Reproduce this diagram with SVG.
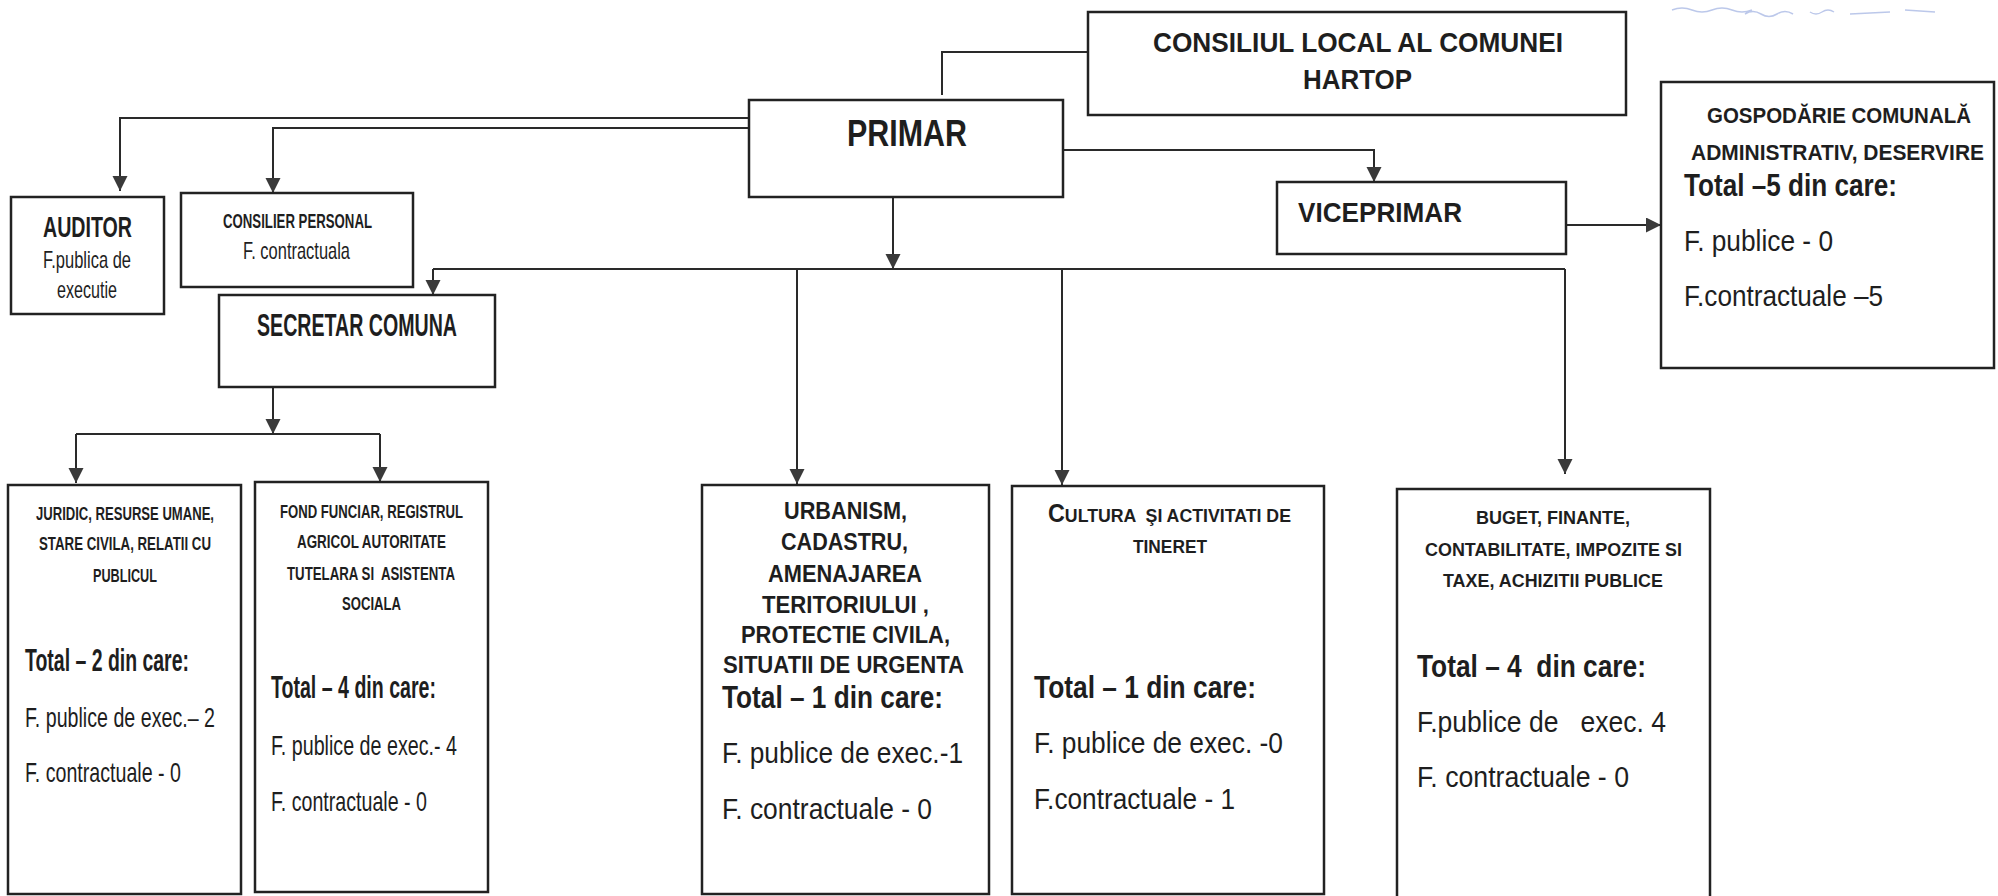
<svg xmlns="http://www.w3.org/2000/svg" width="1998" height="896" viewBox="0 0 1998 896">
<defs>
<marker id="arr" markerUnits="userSpaceOnUse" markerWidth="16" markerHeight="16" refX="15" refY="7.5" orient="auto">
<path d="M0,0 L15,7.5 L0,15 z" fill="#3a3a3a"/>
</marker>
<style>
.box{fill:#fff;stroke:#222;stroke-width:2.5}
.ln{fill:none;stroke:#2a2a2a;stroke-width:2}
.a{marker-end:url(#arr)}
text{font-family:"Liberation Sans",Arial,sans-serif;fill:#1e1e1e}
.b{font-weight:bold}
.pre{white-space:pre}
</style>
</defs>
<rect width="1998" height="896" fill="#fff"/>

<path d="M1672,10 q10,-4 20,0 t20,0 t20,0 t20,0 M1745,14 q8,-5 16,0 t16,0 t16,0 M1810,12 q6,4 12,0 t12,0 M1850,14 l40,-2 M1905,10 l30,2" fill="none" stroke="#8fa3dc" stroke-width="1.5" opacity="0.6"/>

<g id="connectors">
<polyline class="ln" points="1088,52 942,52 942,95"/>
<polyline class="ln a" points="749,118 120,118 120,191"/>
<polyline class="ln a" points="749,128 273,128 273,193"/>
<polyline class="ln a" points="1063,150 1374,150 1374,182"/>
<polyline class="ln a" points="1566,225 1661,225"/>
<polyline class="ln a" points="893,197 893,269"/>
<polyline class="ln" points="433,269 1565,269"/>
<polyline class="ln a" points="433,269 433,295"/>
<polyline class="ln a" points="797,269 797,484"/>
<polyline class="ln a" points="1062,269 1062,485"/>
<polyline class="ln a" points="1565,269 1565,474"/>
<polyline class="ln a" points="273,387 273,434"/>
<polyline class="ln" points="76,434 380,434"/>
<polyline class="ln a" points="76,434 76,483"/>
<polyline class="ln a" points="380,434 380,482"/>
</g>

<g id="consiliul">
<rect class="box" x="1088" y="12" width="538" height="103"/>
<text class="b" x="1153" y="52" font-size="28" textLength="410" lengthAdjust="spacingAndGlyphs">CONSILIUL LOCAL AL COMUNEI</text>
<text class="b" x="1303" y="89" font-size="28" textLength="109" lengthAdjust="spacingAndGlyphs">HARTOP</text>
</g>

<g id="primar">
<rect class="box" x="749" y="100" width="314" height="97"/>
<text class="b" x="847" y="146" font-size="36" textLength="120" lengthAdjust="spacingAndGlyphs">PRIMAR</text>
</g>

<g id="viceprimar">
<rect class="box" x="1277" y="182" width="289" height="72"/>
<text class="b" x="1298" y="222" font-size="28" textLength="164" lengthAdjust="spacingAndGlyphs">VICEPRIMAR</text>
</g>

<g id="gospodarie">
<rect class="box" x="1661" y="82" width="333" height="286"/>
<text class="b" x="1707" y="123" font-size="22" textLength="264" lengthAdjust="spacingAndGlyphs">GOSPODĂRIE COMUNALĂ</text>
<text class="b" x="1691" y="160" font-size="22" textLength="293" lengthAdjust="spacingAndGlyphs">ADMINISTRATIV, DESERVIRE</text>
<text class="b" x="1684" y="196" font-size="31" textLength="213" lengthAdjust="spacingAndGlyphs">Total –5 din care:</text>
<text x="1684" y="251" font-size="30" textLength="149" lengthAdjust="spacingAndGlyphs">F. publice - 0</text>
<text x="1684" y="306" font-size="30" textLength="199" lengthAdjust="spacingAndGlyphs">F.contractuale –5</text>
</g>

<g id="auditor">
<rect class="box" x="11" y="197" width="153" height="117"/>
<text class="b" x="43" y="237" font-size="29" textLength="89" lengthAdjust="spacingAndGlyphs">AUDITOR</text>
<text x="43" y="268" font-size="24" textLength="88" lengthAdjust="spacingAndGlyphs">F.publica de</text>
<text x="57" y="298" font-size="24" textLength="60" lengthAdjust="spacingAndGlyphs">executie</text>
</g>

<g id="consilier">
<rect class="box" x="181" y="193" width="232" height="94"/>
<text class="b" x="223" y="228" font-size="20" textLength="149" lengthAdjust="spacingAndGlyphs">CONSILIER PERSONAL</text>
<text x="243" y="259" font-size="24" textLength="107" lengthAdjust="spacingAndGlyphs">F. contractuala</text>
</g>

<g id="secretar">
<rect class="box" x="219" y="295" width="276" height="92"/>
<text class="b" x="257" y="336" font-size="32" textLength="200" lengthAdjust="spacingAndGlyphs">SECRETAR COMUNA</text>
</g>

<g id="juridic">
<rect class="box" x="8" y="485" width="233" height="409"/>
<text class="b" x="36" y="520" font-size="18" textLength="178" lengthAdjust="spacingAndGlyphs">JURIDIC, RESURSE UMANE,</text>
<text class="b" x="39" y="550" font-size="18" textLength="172" lengthAdjust="spacingAndGlyphs">STARE CIVILA, RELATII CU</text>
<text class="b" x="93" y="582" font-size="18" textLength="64" lengthAdjust="spacingAndGlyphs">PUBLICUL</text>
<text class="b" x="25" y="671" font-size="31" textLength="164" lengthAdjust="spacingAndGlyphs">Total – 2 din care:</text>
<text x="25" y="727" font-size="28" textLength="190" lengthAdjust="spacingAndGlyphs">F. publice de exec.– 2</text>
<text x="25" y="782" font-size="28" textLength="156" lengthAdjust="spacingAndGlyphs">F. contractuale - 0</text>
</g>

<g id="fond">
<rect class="box" x="255" y="482" width="233" height="410"/>
<text class="b" x="280" y="518" font-size="18" textLength="183" lengthAdjust="spacingAndGlyphs">FOND FUNCIAR, REGISTRUL</text>
<text class="b" x="297" y="548" font-size="18" textLength="149" lengthAdjust="spacingAndGlyphs">AGRICOL AUTORITATE</text>
<text class="b pre" x="287" y="580" font-size="18" textLength="168" lengthAdjust="spacingAndGlyphs">TUTELARA SI  ASISTENTA</text>
<text class="b" x="342" y="610" font-size="18" textLength="59" lengthAdjust="spacingAndGlyphs">SOCIALA</text>
<text class="b" x="271" y="698" font-size="31" textLength="165" lengthAdjust="spacingAndGlyphs">Total – 4 din care:</text>
<text x="271" y="755" font-size="28" textLength="186" lengthAdjust="spacingAndGlyphs">F. publice de exec.- 4</text>
<text x="271" y="811" font-size="28" textLength="156" lengthAdjust="spacingAndGlyphs">F. contractuale - 0</text>
</g>

<g id="urbanism">
<rect class="box" x="702" y="485" width="287" height="409"/>
<text class="b" x="784" y="519" font-size="23" textLength="123" lengthAdjust="spacingAndGlyphs">URBANISM,</text>
<text class="b" x="781" y="550" font-size="23" textLength="127" lengthAdjust="spacingAndGlyphs">CADASTRU,</text>
<text class="b" x="768" y="582" font-size="23" textLength="154" lengthAdjust="spacingAndGlyphs">AMENAJAREA</text>
<text class="b" x="762" y="613" font-size="23" textLength="167" lengthAdjust="spacingAndGlyphs">TERITORIULUI ,</text>
<text class="b" x="741" y="643" font-size="23" textLength="209" lengthAdjust="spacingAndGlyphs">PROTECTIE CIVILA,</text>
<text class="b" x="723" y="673" font-size="23" textLength="241" lengthAdjust="spacingAndGlyphs">SITUATII DE URGENTA</text>
<text class="b" x="722" y="708" font-size="31" textLength="221" lengthAdjust="spacingAndGlyphs">Total – 1 din care:</text>
<text x="722" y="763" font-size="29" textLength="241" lengthAdjust="spacingAndGlyphs">F. publice de exec.-1</text>
<text x="722" y="819" font-size="29" textLength="210" lengthAdjust="spacingAndGlyphs">F. contractuale - 0</text>
</g>

<g id="cultura">
<rect class="box" x="1012" y="486" width="312" height="408"/>
<text class="b pre" x="1048" y="522" font-size="19" textLength="243" lengthAdjust="spacingAndGlyphs"><tspan font-size="25">C</tspan>ULTURA  ŞI ACTIVITATI DE</text>
<text class="b" x="1133" y="553" font-size="19" textLength="74" lengthAdjust="spacingAndGlyphs">TINERET</text>
<text class="b" x="1034" y="698" font-size="31" textLength="222" lengthAdjust="spacingAndGlyphs">Total – 1 din care:</text>
<text x="1034" y="753" font-size="29" textLength="249" lengthAdjust="spacingAndGlyphs">F. publice de exec. -0</text>
<text x="1034" y="809" font-size="29" textLength="201" lengthAdjust="spacingAndGlyphs">F.contractuale - 1</text>
</g>

<g id="buget">
<rect class="box" x="1397" y="489" width="313" height="420"/>
<text class="b" x="1476" y="524" font-size="18" textLength="154" lengthAdjust="spacingAndGlyphs">BUGET, FINANTE,</text>
<text class="b" x="1425" y="556" font-size="18" textLength="257" lengthAdjust="spacingAndGlyphs">CONTABILITATE, IMPOZITE SI</text>
<text class="b" x="1443" y="587" font-size="18" textLength="220" lengthAdjust="spacingAndGlyphs">TAXE, ACHIZITII PUBLICE</text>
<text class="b pre" x="1417" y="677" font-size="31" textLength="229" lengthAdjust="spacingAndGlyphs">Total – 4  din care:</text>
<text class="pre" x="1417" y="732" font-size="29" textLength="249" lengthAdjust="spacingAndGlyphs">F.publice de   exec. 4</text>
<text x="1417" y="787" font-size="29" textLength="212" lengthAdjust="spacingAndGlyphs">F. contractuale - 0</text>
</g>
</svg>
